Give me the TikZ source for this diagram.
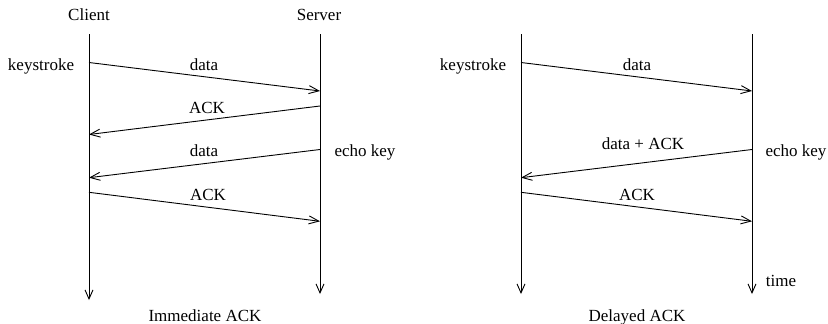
\documentclass[tikz,border=0pt]{standalone}
\usepackage{fontspec}
\setmainfont{Liberation Serif}
\usetikzlibrary{arrows.meta}
\begin{document}
\begin{tikzpicture}[x=1pt,y=-1pt,
  life/.style={line width=0.9pt,-{Straight Barb[length=9pt,width=8pt]}},
  msg/.style={line width=0.9pt,-{Straight Barb[length=10pt,width=8pt]}},
  lbl/.style={anchor=base,inner sep=0pt,font=\fontsize{17}{20}\selectfont}]
\useasboundingbox (0,0) rectangle (828,324);
% lifeline coordinates
\coordinate (c1t) at (89,34);  \coordinate (c1b) at (89,300);
\coordinate (s1t) at (320,34); \coordinate (s1b) at (320,294);
\coordinate (c2t) at (521,34); \coordinate (c2b) at (521,294);
\coordinate (s2t) at (752,34); \coordinate (s2b) at (752,294);
\draw[life] (c1t) -- (c1b);
\draw[life] (s1t) -- (s1b);
\draw[life] (c2t) -- (c2b);
\draw[life] (s2t) -- (s2b);
% message endpoints, left
\coordinate (a1) at (89,62.5);   \coordinate (b1) at (320,91);
\coordinate (a2) at (320,106);   \coordinate (b2) at (89,134.5);
\coordinate (a3) at (320,149.5); \coordinate (b3) at (89,177.7);
\coordinate (a4) at (89,192.3);  \coordinate (b4) at (320,221.3);
\draw[msg] (a1) -- (b1);
\draw[msg] (a2) -- (b2);
\draw[msg] (a3) -- (b3);
\draw[msg] (a4) -- (b4);
% message endpoints, right
\coordinate (d1) at (521,62.5);  \coordinate (e1) at (752,91);
\coordinate (d2) at (752,149.5); \coordinate (e2) at (521,177.7);
\coordinate (d3) at (521,192.3); \coordinate (e3) at (752,221.3);
\draw[msg] (d1) -- (e1);
\draw[msg] (d2) -- (e2);
\draw[msg] (d3) -- (e3);
% labels left
\node[lbl] (client) at (89,20) {Client};
\node[lbl] (server) at (319,20) {Server};
\node[lbl] (ks1) at (41,70) {keystroke};
\node[lbl] (l1) at (204,70) {data};
\node[lbl] (l2) at (207,113) {ACK};
\node[lbl] (l3) at (204,156) {data};
\node[lbl] (ek1) at (365,156) {echo key};
\node[lbl] (l4) at (208,200) {ACK};
\node[lbl] (cap1) at (205,321) {Immediate ACK};
% labels right
\node[lbl] (ks2) at (473,70) {keystroke};
\node[lbl] (r1) at (637,70) {data};
\node[lbl] (r2) at (643,149) {data + ACK};
\node[lbl] (ek2) at (796,156) {echo key};
\node[lbl] (r3) at (637,200) {ACK};
\node[lbl] (time) at (781,286) {time};
\node[lbl] (cap2) at (637,321) {Delayed ACK};
\end{tikzpicture}
\end{document}
